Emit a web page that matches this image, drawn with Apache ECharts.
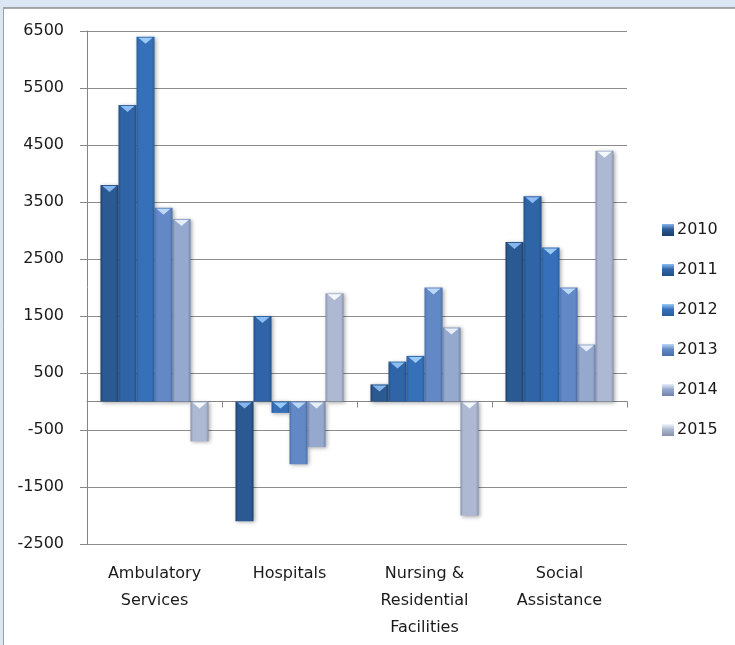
<!DOCTYPE html>
<html>
<head>
<meta charset="utf-8">
<script src="https://cdn.jsdelivr.net/npm/echarts@6/dist/echarts.min.js"></script>
<style>
html,body{margin:0;padding:0;background:#fff;}
#c{width:735px;height:645px;}
</style>
</head>
<body>
<div id="c"></div>
<script>
const categories = ['Ambulatory\nServices', 'Hospitals', 'Nursing &\nResidential\nFacilities', 'Social\nAssistance'];
const years = ['2010', '2011', '2012', '2013', '2014', '2015'];
const v2010 = [3800, -2100, 300, 2800];
const v2011 = [5200, 1500, 700, 3600];
const v2012 = [6400, -200, 800, 2700];
const v2013 = [3400, -1100, 2000, 2000];
const v2014 = [3200, -800, 1300, 1000];
const v2015 = [-700, 1900, -2000, 4400];
const yTicks = { min: -2500, max: 6500, interval: 1000 };

const values = [v2010, v2011, v2012, v2013, v2014, v2015];
const palette = [
  { edge: '#1c3e69', mid: '#2b5a93', tri: '#86b6ec' },
  { edge: '#224e88', mid: '#2f64a7', tri: '#8dbdf2' },
  { edge: '#295da0', mid: '#3670b9', tri: '#9bcaf7' },
  { edge: '#4a6fab', mid: '#6289c6', tri: '#bcd8f7' },
  { edge: '#7084ab', mid: '#95a9cf', tri: '#e6eefa' },
  { edge: '#8691ad', mid: '#adb9d2', tri: '#f4f7fc' }
];
const FONT = 'DejaVu Sans';
const nSeries = years.length;
const catGap = 0.2;

function barFill(p) {
  return new echarts.graphic.LinearGradient(0, 0, 1, 0, [
    { offset: 0, color: p.edge },
    { offset: 0.14, color: p.mid },
    { offset: 0.86, color: p.mid },
    { offset: 1, color: p.edge }
  ]);
}

function makeRender(si) {
  const p = palette[si];
  return function (params, api) {
    const cat = api.value(0);
    const v = api.value(1);
    const c0 = api.coord([cat, 0]);
    const c1 = api.coord([cat, v]);
    const band = api.size([1, 0])[0];
    const bw = band * (1 - catGap) / nSeries;
    const x = c0[0] - band * (1 - catGap) / 2 + si * bw;
    const top = Math.min(c0[1], c1[1]);
    const h = Math.abs(c1[1] - c0[1]);
    const triH = Math.min(6, h);
    return {
      type: 'group',
      children: [
        {
          type: 'rect',
          shape: { x: x, y: top, width: bw, height: h },
          style: {
            fill: barFill(p),
            shadowBlur: 4,
            shadowColor: 'rgba(0,0,0,0.35)',
            shadowOffsetX: 1,
            shadowOffsetY: 1
          }
        },
        {
          type: 'polygon',
          shape: { points: [[x + 2, top + 1], [x + bw - 2, top + 1], [x + bw / 2, top + 1 + triH]] },
          style: { fill: p.tri }
        }
      ]
    };
  };
}

const series = years.map(function (y, si) {
  return {
    name: y,
    type: 'custom',
    xAxisIndex: 0,
    renderItem: makeRender(si),
    encode: { x: 0, y: 1 },
    itemStyle: {
      color: new echarts.graphic.LinearGradient(0, 0, 0, 1, [
        { offset: 0, color: palette[si].tri },
        { offset: 0.45, color: palette[si].mid },
        { offset: 1, color: palette[si].edge }
      ])
    },
    data: values[si].map(function (v, ci) { return [ci, v]; })
  };
});

const chart = echarts.init(document.getElementById('c'));
chart.setOption({
  animation: false,
  backgroundColor: '#ffffff',
  graphic: [
    { type: 'rect', z: -10, shape: { x: 0, y: 0, width: 735, height: 8 }, style: { fill: '#dce6f2' } },
    { type: 'rect', z: -10, shape: { x: 0, y: 0, width: 3, height: 645 }, style: { fill: '#dce6f2' } },
    { type: 'line', z: -9, shape: { x1: 3, y1: 8, x2: 735, y2: 8 }, style: { stroke: '#8c8c8c', lineWidth: 1.5 } },
    { type: 'line', z: -9, shape: { x1: 3.5, y1: 8, x2: 3.5, y2: 645 }, style: { stroke: '#a0a0a0', lineWidth: 1 } }
  ],
  grid: { left: 87, right: 108, top: 31, bottom: 101, containLabel: false },
  legend: {
    data: years,
    orient: 'vertical',
    left: 662,
    top: 222,
    padding: 0,
    itemWidth: 12,
    itemHeight: 12,
    itemGap: 24,
    icon: 'rect',
    textStyle: { fontFamily: FONT, fontSize: 16, color: '#1a1a1a', padding: [0, 0, 0, -2] }
  },
  xAxis: [
    {
      type: 'category',
      data: categories,
      position: 'bottom',
      axisLine: { show: true, onZero: true, lineStyle: { color: '#868686', width: 1 } },
      axisTick: { show: true, length: 6, lineStyle: { color: '#868686' } },
      axisLabel: { show: false },
      splitLine: { show: false }
    },
    {
      type: 'category',
      data: categories,
      position: 'bottom',
      axisLine: { show: false, onZero: false },
      axisTick: { show: false },
      axisLabel: {
        show: true,
        margin: 16,
        interval: 0,
        fontFamily: FONT,
        fontSize: 16,
        color: '#1a1a1a',
        lineHeight: 27,
        align: 'center',
        verticalAlign: 'top'
      },
      splitLine: { show: false }
    }
  ],
  yAxis: {
    type: 'value',
    min: yTicks.min,
    max: yTicks.max,
    interval: yTicks.interval,
    axisLine: { show: true, lineStyle: { color: '#868686', width: 1 } },
    axisTick: { show: true, length: 7, lineStyle: { color: '#868686' } },
    axisLabel: {
      margin: 23, fontFamily: FONT, fontSize: 16, color: '#1a1a1a',
      formatter: function (v) { return String(v); }
    },
    splitLine: { show: true, lineStyle: { color: '#8c8c8c', width: 1 } }
  },
  series: series
});
</script>
</body>
</html>
